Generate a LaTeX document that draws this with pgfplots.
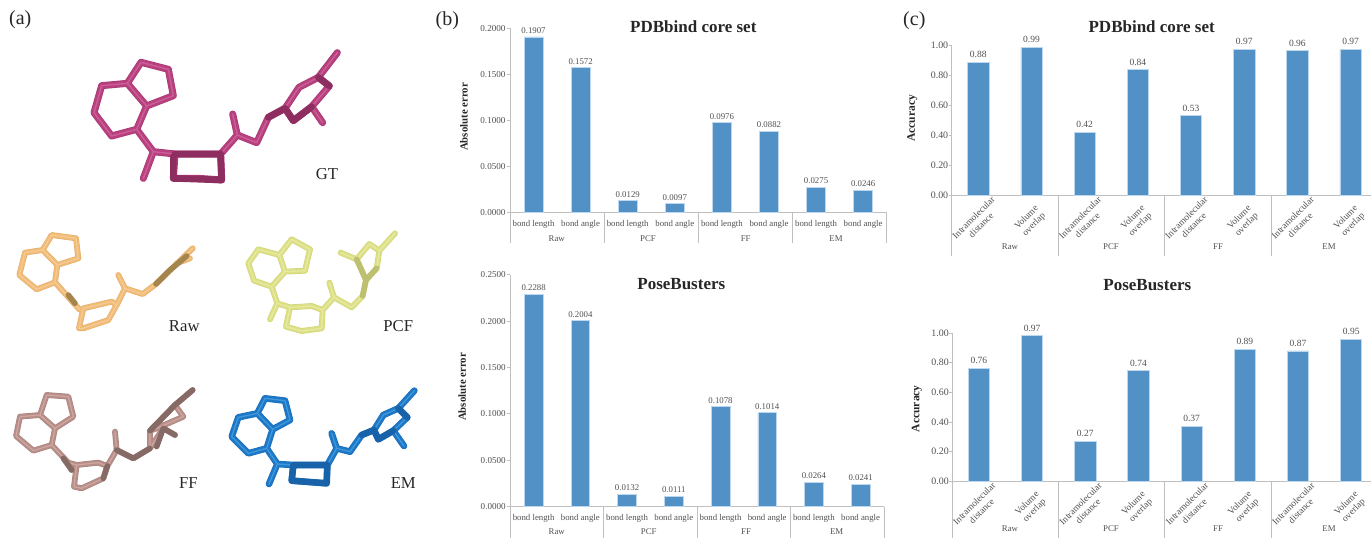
\documentclass[border=0pt]{standalone}
\usepackage{fontspec}
\setmainfont{Liberation Serif}
\usepackage{pgfplots}
\pgfplotsset{compat=1.18}

\definecolor{barfill}{HTML}{5291C5}
\definecolor{baredge}{HTML}{BDD7EE}
\definecolor{axisgray}{HTML}{BFBFBF}
\definecolor{ticktext}{HTML}{505050}
\definecolor{titletext}{HTML}{262626}
\definecolor{gtA}{HTML}{A83A74}\definecolor{gtB}{HTML}{B8407E}\definecolor{gtC}{HTML}{CB5E96}\definecolor{gtD}{HTML}{8E2D60}
\definecolor{rawA}{HTML}{E6AF6C}\definecolor{rawB}{HTML}{F0BC78}\definecolor{rawC}{HTML}{F6CC96}\definecolor{rawD}{HTML}{A5854E}
\definecolor{pcfA}{HTML}{D2D57A}\definecolor{pcfB}{HTML}{DCE085}\definecolor{pcfC}{HTML}{E8EAA2}\definecolor{pcfD}{HTML}{BCC070}
\definecolor{ffA}{HTML}{AA8580}\definecolor{ffB}{HTML}{B88E88}\definecolor{ffC}{HTML}{CFA8A3}\definecolor{ffD}{HTML}{866A66}
\definecolor{emA}{HTML}{1B70BC}\definecolor{emB}{HTML}{1E78C8}\definecolor{emC}{HTML}{3E98DA}\definecolor{emD}{HTML}{1862AA}

% one unit of pt is one pixel of the reference, y runs downwards as -y
\newcommand\fs[1]{\fontsize{#1}{#1}\selectfont}
\newcommand\fsl{\fontsize{9.4}{10.5}\selectfont}

\pgfplotsset{
  barax/.style={
    scale only axis, ybar, clip=false,
    xmin=-0.5, xmax=7.5, ymin=0,
    bar width=0.4, xtick={0,...,7},
    axis lines*=left, axis line style={draw=axisgray,line width=0.9pt,-},
    x tick style={draw=none},
    y tick style={draw=axisgray,line width=0.9pt},
    tick align=outside, major tick length=3pt,
    scaled y ticks=false,
    /pgf/number format/assume math mode=true,
    /pgf/number format/fixed, /pgf/number format/zerofill,
    tick label style={text=ticktext},
  },
  errax/.style={
    barax, /pgf/number format/precision=4,
    nodes near coords,
    y tick label style={font=\fs{9.1},xshift=2pt},
    x tick label style={font=\fs{8.8},yshift=-1.5pt},
    xticklabels={bond length,bond angle,bond length,bond angle,bond length,bond angle,bond length,bond angle},
    every node near coord/.append style={font=\fs{8.8},text=ticktext,inner sep=3pt},
  },
  accax/.style={
    barax, /pgf/number format/precision=2,
    width=425.5pt, ymax=1, ytick={0,0.2,0.4,0.6,0.8,1},
    y tick label style={font=\fs{9.9},xshift=3pt},
    x tick label style={font=\fsl,rotate=45,anchor=center,align=center,xshift=-17pt,yshift=-15.5pt},
    xticklabels={{Intramolecular\\distance},{Volume\\overlap},{Intramolecular\\distance},{Volume\\overlap},{Intramolecular\\distance},{Volume\\overlap},{Intramolecular\\distance},{Volume\\overlap}},
    point meta=explicit symbolic,
    nodes near coords={\pgfplotspointmeta},
    every node near coord/.append style={font=\fs{9.5},text=ticktext,inner sep=4pt},
  },
  bars/.style={fill=barfill,draw=baredge,line width=0.7pt},
  stick/.style={line join=round,line cap=round,unbounded coords=jump},
  molax/.style={hide axis,scale only axis,clip=false,y dir=reverse},
}

% #1 edge, #2 main, #3 highlight, #4 shade, #5 stick width, #6 shaded bonds, #7 all bonds
\newcommand\mol[7]{%
  \addplot[stick,draw=#1,line width=#5pt] coordinates {#7};
  \addplot[stick,draw=#2,line width=0.8*#5pt] coordinates {#7};
  \addplot[stick,draw=#3,line width=0.2*#5pt] coordinates {#7};
  \addplot[stick,draw=#4,line width=0.95*#5pt] coordinates {#6};
}

\newcommand\groups[5]{%
  \node[font=\fs{8.8},text=ticktext] at (#2pt,-#1pt) {Raw};
  \node[font=\fs{8.8},text=ticktext] at (#3pt,-#1pt) {PCF};
  \node[font=\fs{8.8},text=ticktext] at (#4pt,-#1pt) {FF};
  \node[font=\fs{8.8},text=ticktext] at (#5pt,-#1pt) {EM};
}

\begin{document}
\begin{tikzpicture}
\useasboundingbox (0,0) rectangle (1371pt,-538pt);
\clip (0,0) rectangle (1371pt,-538pt);

% GT molecule, coordinates are 3x reference pixels
\begin{axis}[molax,at={(0,0)},anchor=north west,width=430pt,height=220pt,xmin=0,xmax=1290,ymin=0,ymax=660]
\mol{gtA}{gtB}{gtC}{gtD}{7}
{(525,462)(662,462) (nan,nan) (520,470)(520,535)(665,540)(662,470) (nan,nan) (805,352)(855,325)(880,362)(935,320) (nan,nan) (955,232)(988,258)}
{(305,257)(382,250)(440,318)(410,388)(335,408)(282,338)(305,257) (nan,nan)
 (382,250)(423,187)(505,208)(520,287)(440,318) (nan,nan)
 (410,388)(460,455)(430,535) (nan,nan) (460,455)(525,462)(662,462)(665,540)(595,535)(520,535)(525,462) (nan,nan)
 (662,462)(712,405)(698,342) (nan,nan) (712,405)(770,428)(805,352)(855,325)(897,262)(955,232)(988,258)(935,320)(880,362)(855,325) (nan,nan)
 (955,232)(1012,158) (nan,nan) (935,320)(968,368)}
\end{axis}

% the four other molecules
\begin{axis}[molax,at={(0,-220pt)},anchor=north west,width=430pt,height=318pt,xmin=0,xmax=1290,ymin=0,ymax=954]
\mol{rawA}{rawB}{rawC}{rawD}{5.8}
{(468,192)(510,150)(560,108) (nan,nan) (205,225)(225,250)}
{(75,98)(128,90)(172,135)(165,187)(110,208)(58,165)(75,98) (nan,nan)
 (128,90)(155,45)(228,55)(235,115)(172,135) (nan,nan)
 (165,187)(238,268) (nan,nan) (250,265)(335,245)(350,255)(325,300)(250,325)(237,325)(250,265) (nan,nan)
 (350,255)(375,205)(355,165) (nan,nan) (375,205)(428,222)(468,192)(578,85) (nan,nan) (530,130)(570,115)}
\mol{pcfA}{pcfB}{pcfC}{pcfD}{5.8}
{(1098,180)(1070,118) (nan,nan) (1130,145)(1098,180)(1088,228)}
{(775,88)(838,105)(855,155)(815,200)(762,182)(745,130)(775,88) (nan,nan)
 (838,105)(875,58)(930,88)(915,152)(855,155) (nan,nan)
 (815,200)(832,250)(810,298) (nan,nan) (832,250)(870,262)(935,258)(968,270)(965,325)(905,333)(858,320)(870,262) (nan,nan)
 (968,270)(1002,232)(988,188) (nan,nan) (1002,232)(1055,262)(1088,228)(1098,180)(1070,118)(1108,72)(1138,92)(1130,145)(1098,180) (nan,nan)
 (1138,92)(1185,40) (nan,nan) (1070,118)(1022,98)}
\mol{ffA}{ffB}{ffC}{ffD}{5.8}
{(190,715)(215,750) (nan,nan) (350,690)(400,715)(450,685) (nan,nan) (450,632)(525,555) (nan,nan) (470,680)(490,625)(525,645) (nan,nan) (322,738)(310,775) (nan,nan) (525,555)(578,510)}
{(60,590)(120,585)(165,625)(155,675)(100,692)(48,648)(60,590) (nan,nan)
 (120,585)(140,525)(205,530)(220,590)(165,625) (nan,nan)
 (155,675)(205,728)(215,750) (nan,nan) (205,728)(230,735)(295,728)(322,738)(310,775)(245,805)(222,800)(230,735) (nan,nan)
 (322,738)(350,690)(345,635) (nan,nan) (350,690)(400,715)(450,685)(450,632)(525,555)(550,590)(470,625)(450,632) (nan,nan)
 (450,685)(490,625)(525,645) (nan,nan) (525,555)(578,510)}
\mol{emA}{emB}{emC}{emD}{6.6}
{(880,735)(982,735)(980,790)(875,782)(880,735) (nan,nan) (1085,645)(1122,630)(1135,658)(1180,632) (nan,nan) (1195,565)(1222,592)}
{(715,592)(772,580)(818,628)(800,685)(745,700)(695,650)(715,592) (nan,nan)
 (772,580)(795,535)(855,542)(870,600)(818,628) (nan,nan)
 (800,685)(832,732)(807,792) (nan,nan) (832,732)(880,735)(982,735)(980,790)(875,782)(880,735) (nan,nan)
 (982,735)(1010,685)(995,640) (nan,nan) (1010,685)(1050,695)(1085,645)(1122,630)(1150,585)(1195,565)(1222,592)(1180,632)(1135,658)(1122,630) (nan,nan)
 (1195,565)(1243,512) (nan,nan) (1180,632)(1212,678)}
\end{axis}

% (b) absolute error
\begin{axis}[errax,at={(510pt,-212.7pt)},anchor=south west,width=376.7pt,height=184.4pt,ymax=0.2,ytick={0,0.05,0.1,0.15,0.2}]
\addplot[bars] coordinates {(0,0.1907)(1,0.1572)(2,0.0129)(3,0.0097)(4,0.0976)(5,0.0882)(6,0.0275)(7,0.0246)};
\end{axis}
\begin{axis}[errax,at={(510.3pt,-506.7pt)},anchor=south west,width=373.7pt,height=232pt,ymax=0.25,ytick={0,0.05,0.1,0.15,0.2,0.25}]
\addplot[bars] coordinates {(0,0.2288)(1,0.2004)(2,0.0132)(3,0.0111)(4,0.1078)(5,0.1014)(6,0.0264)(7,0.0241)};
\end{axis}

% (c) accuracy
\begin{axis}[accax,at={(951.7pt,-195.3pt)},anchor=south west,height=150.3pt]
\addplot[bars] coordinates {(0,0.885)[0.88](1,0.985)[0.99](2,0.42)[0.42](3,0.835)[0.84](4,0.53)[0.53](5,0.972)[0.97](6,0.962)[0.96](7,0.972)[0.97]};
\end{axis}
\begin{axis}[accax,at={(952.3pt,-481.3pt)},anchor=south west,height=148.3pt]
\addplot[bars] coordinates {(0,0.764)[0.76](1,0.982)[0.97](2,0.27)[0.27](3,0.746)[0.74](4,0.371)[0.37](5,0.892)[0.89](6,0.879)[0.87](7,0.957)[0.95]};
\end{axis}

% separators of the two level category axes
\foreach \x in {510,604,698,792,886.7} \draw[axisgray,line width=0.9pt] (\x pt,-212.7pt) -- (\x pt,-243pt);
\foreach \x in {510.3,603.7,697,790.5,884} \draw[axisgray,line width=0.9pt] (\x pt,-506.7pt) -- (\x pt,-538pt);
\foreach \x in {951.7,1058.3,1164.3,1271} \draw[axisgray,line width=0.9pt] (\x pt,-195.3pt) -- (\x pt,-255.7pt);
\foreach \x in {952.3,1058.3,1164.3,1271} \draw[axisgray,line width=0.9pt] (\x pt,-481.3pt) -- (\x pt,-538pt);
\groups{239}{556.7}{648}{745.7}{836}
\groups{531.3}{556.7}{648.7}{746}{836.7}
\groups{246.7}{1010}{1111}{1218}{1329}
\groups{528.7}{1010}{1111}{1218}{1329}

% titles and axis names
\node[font=\fs{17}\bfseries,text=titletext] at (693.3pt,-26.7pt) {PDBbind core set};
\node[font=\fs{17}\bfseries,text=titletext] at (681.3pt,-284pt) {PoseBusters};
\node[font=\fs{17}\bfseries,text=titletext] at (1151.7pt,-26.7pt) {PDBbind core set};
\node[font=\fs{17}\bfseries,text=titletext] at (1147.3pt,-284.7pt) {PoseBusters};
\node[font=\fs{10.8}\bfseries,text=titletext,rotate=90] at (464pt,-117pt) {Absolute error};
\node[font=\fs{10.8}\bfseries,text=titletext,rotate=90] at (462.3pt,-387pt) {Absolute error};
\node[font=\fs{11.5}\bfseries,text=titletext,rotate=90] at (912.3pt,-118.3pt) {Accuracy};
\node[font=\fs{11.5}\bfseries,text=titletext,rotate=90] at (916.7pt,-408.7pt) {Accuracy};

% panel letters and molecule names
\node[font=\fs{20},text=titletext] at (20.3pt,-19.3pt) {(a)};
\node[font=\fs{20},text=titletext] at (447.3pt,-20.7pt) {(b)};
\node[font=\fs{20},text=titletext] at (914.3pt,-20.7pt) {(c)};
\node[font=\fs{16.7},text=titletext] at (327pt,-173.7pt) {GT};
\node[font=\fs{16.7},text=titletext] at (184.3pt,-325.7pt) {Raw};
\node[font=\fs{16.7},text=titletext] at (398.3pt,-325.7pt) {PCF};
\node[font=\fs{16.7},text=titletext] at (188.3pt,-483.3pt) {FF};
\node[font=\fs{16.7},text=titletext] at (403.3pt,-483.3pt) {EM};
\end{tikzpicture}
\end{document}
